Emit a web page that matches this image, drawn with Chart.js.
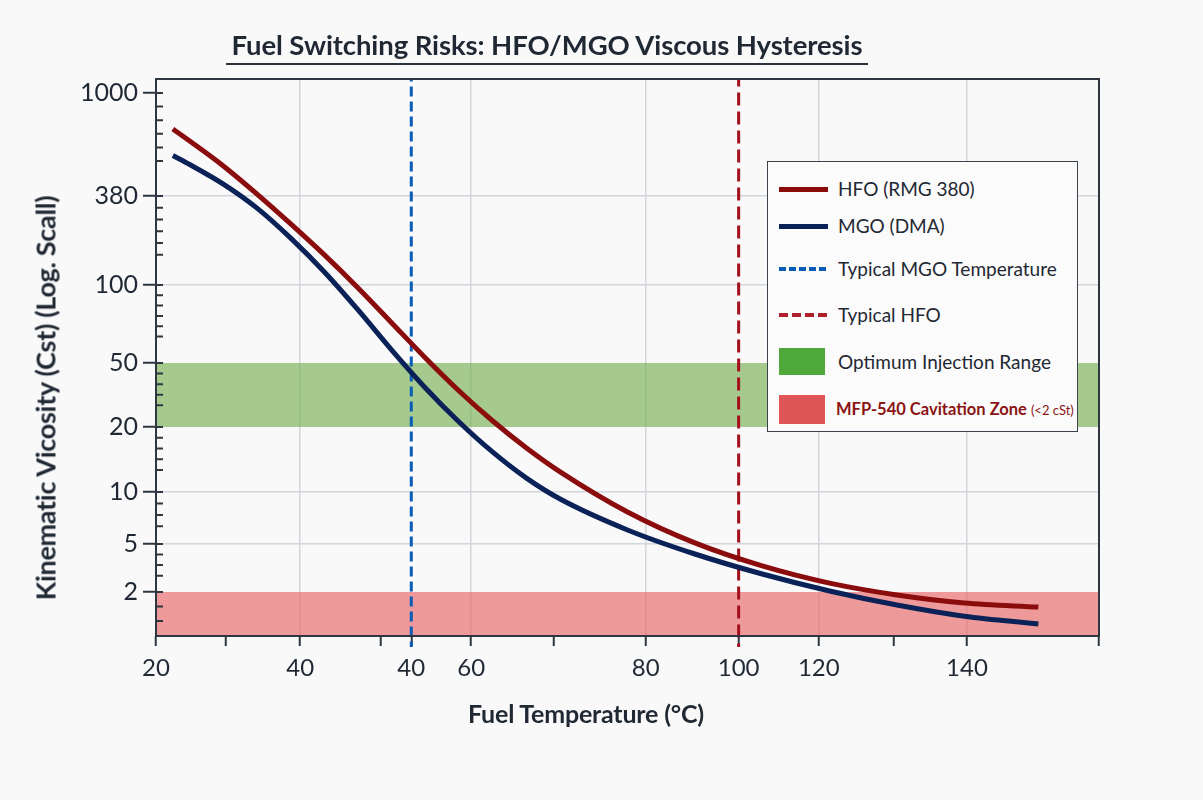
<!DOCTYPE html>
<html>
<head>
<meta charset="utf-8">
<script src="https://cdn.jsdelivr.net/npm/chart.js@4.4.1/dist/chart.umd.min.js"></script>
<style>
  html, body { margin: 0; padding: 0; background: #f9f9fa; }
  #wrap { position: relative; width: 1203px; height: 800px; font-family: Lato, 'Open Sans', sans-serif; color: #1f2833; }
  #title { position: absolute; left: 226px; top: 29px; width: 642px; text-align: center; font-size: 27.5px; font-weight: 700;
           line-height: 31px; padding-bottom: 3px; border-bottom: 2px solid #2b333d; letter-spacing: -0.1px; }
  #ytitle { position: absolute; left: 45px; top: 398px; transform: translate(-50%, -50%) rotate(-90deg); white-space: nowrap;
            font-size: 27px; font-weight: 700; letter-spacing: -0.3px; }
  #xtitle { position: absolute; left: 586px; top: 713px; transform: translate(-50%, -50%); white-space: nowrap;
            font-size: 25px; font-weight: 700; letter-spacing: -0.2px; }
  #legend { position: absolute; left: 767px; top: 161px; width: 309px; height: 269px; border: 1.5px solid #3a424c; background: #fbfbfb; }
  .it { position: absolute; left: 0; height: 28px; line-height: 28px; font-size: 19px; white-space: nowrap; }
  .it .tx { position: absolute; left: 70px; top: 0; }
  .sw { position: absolute; left: 11px; }
</style>
</head>
<body>
<div id="wrap">
  <canvas id="fuelChart" width="1203" height="800"></canvas>
  <div id="title">Fuel Switching Risks: HFO/MGO Viscous Hysteresis</div>
  <div id="ytitle">Kinematic Vicosity (Cst) (Log. Scall)</div>
  <div id="xtitle">Fuel Temperature (°C)</div>
  <div id="legend">
    <div class="it" style="top:13px"><span class="sw" style="top:12px;width:49px;height:5px;background:#8a0c0c"></span><span class="tx">HFO (RMG 380)</span></div>
    <div class="it" style="top:50px"><span class="sw" style="top:12px;width:49px;height:5px;background:#0a2257"></span><span class="tx">MGO (DMA)</span></div>
    <div class="it" style="top:93px"><span class="sw" style="top:12px;width:49px;height:4px;background:repeating-linear-gradient(90deg,#0b5cb5 0 7px,transparent 7px 10px)"></span><span class="tx">Typical MGO Temperature</span></div>
    <div class="it" style="top:139px"><span class="sw" style="top:12px;width:48px;height:4px;background:repeating-linear-gradient(90deg,#b0202c 0 9px,transparent 9px 13px)"></span><span class="tx">Typical HFO</span></div>
    <div class="it" style="top:186px"><span class="sw" style="top:0;width:46px;height:27px;background:#4ea83a"></span><span class="tx">Optimum Injection Range</span></div>
    <div class="it" style="top:233px"><span class="sw" style="top:0;width:46px;height:29px;background:#e05555"></span><span class="tx" style="left:68px;color:#8b1414;font-weight:700;font-size:16.5px">MFP-540 Cavitation Zone <span style="font-size:13px;font-weight:400">(&lt;2 cSt)</span></span></div>
  </div>
</div>
<script>
// temperatures (°C) and viscosities (cSt)
const temps   = [22.5, 25, 30, 35, 40, 45, 50, 55, 60, 65, 70, 75, 80, 90, 100, 110, 120, 130, 140, 151];
const hfoVisc = [713, 637, 504, 387, 250, 157, 97.4, 71.4, 52.3, 33.5, 21.8, 16.0, 12.4, 7.66, 5.07, 3.29, 2.37, 1.89, 1.62, 1.5];
const mgoVisc = [556, 511, 425, 317, 202, 121.5, 80.1, 56.1, 35.0, 21.5, 15.3, 11.6, 9.11, 6.03, 4.13, 2.82, 2.04, 1.56, 1.26, 1.086];

const mgoTypicalTemp = 57.9;
const hfoTypicalTemp = 106.5;
const optimumRange = [20, 50];
const cavitationLimit = 2;

// axis ticks as printed
const xTickAt     = [20, 30.4, 41.4, 53.4, 57.9, 66.8, 79.1, 92.7, 106.5, 118.4, 129.6, 140.4, 160];
const xTickLabels = ['20', '', '40', '', '40', '60', '', '80', '100', '120', '', '140', ''];
const yTicks      = [1000, 380, 100, 50, 20, 10, 5, 2];

// where each printed y tick sits, as a fraction of the axis height from the bottom
const yTickFrac = [0.9749, 0.7899, 0.6302, 0.4901, 0.3752, 0.2585, 0.1652, 0.079];

function segIndex(arr, x) {
  let i = 0;
  for (i = 0; i < arr.length - 2; i++) if (x >= arr[i + 1]) break;
  return i;
}
const yLogs = yTicks.map(v => Math.log10(v));
function viscToFrac(v) {
  const lv = Math.log10(v), i = segIndex(yLogs, lv);
  return yTickFrac[i] + (lv - yLogs[i]) * (yTickFrac[i + 1] - yTickFrac[i]) / (yLogs[i + 1] - yLogs[i]);
}
function fracToVisc(f) {
  const i = segIndex(yTickFrac, f);
  return Math.pow(10, yLogs[i] + (f - yTickFrac[i]) * (yLogs[i + 1] - yLogs[i]) / (yTickFrac[i + 1] - yTickFrac[i]));
}

class WarpedLogScale extends Chart.Scale {
  determineDataLimits() { this.min = fracToVisc(0); this.max = fracToVisc(1); }
  buildTicks() { return yTicks.map(v => ({ value: v })); }
  getLabelForValue(v) { return String(v); }
  getPixelForValue(v) { return this.getPixelForDecimal(viscToFrac(v)); }
  getValueForPixel(p) { return fracToVisc(this.getDecimalForPixel(p)); }
  getPixelForTick(i) { return this.getPixelForValue(this.ticks[i].value); }
}
WarpedLogScale.id = 'warpedLog';
WarpedLogScale.defaults = {};
Chart.register(WarpedLogScale);

const pts = (xs, ys) => xs.map((x, i) => ({ x: x, y: ys[i] }));
const yGrid = v => v !== yTicks[0] && !optimumRange.includes(v) && v !== cavitationLimit;
const xGrid = (v, i) => xTickLabels[i] !== '' && v !== mgoTypicalTemp && v !== hfoTypicalTemp && v !== xTickAt[0];

const axisDecor = {
  id: 'axisDecor',
  afterDraw(chart) {
    const { ctx, chartArea: a, scales: { y } } = chart;
    ctx.save();
    ctx.strokeStyle = '#2e3640';
    ctx.lineWidth = 2;
    ctx.strokeRect(a.left, a.top, a.right - a.left, a.bottom - a.top);
    const majors = yTicks.map(v => y.getPixelForValue(v));
    majors.push(a.bottom);
    const minorCounts = [5, 5, 5, 4, 4, 3, 3, 2];
    ctx.beginPath();
    for (let i = 0; i < yTicks.length; i++) {
      const p = majors[i], q = majors[i + 1], n = minorCounts[i];
      ctx.moveTo(a.left, p); ctx.lineTo(a.left + 7, p);
      for (let k = 1; k <= n; k++) {
        const m = p + (q - p) * 0.66 * k / n;
        ctx.moveTo(a.left, m); ctx.lineTo(a.left + 7, m);
      }
    }
    ctx.stroke();
    ctx.restore();
  }
};

const ctxFuel = document.getElementById('fuelChart').getContext('2d');
new Chart(ctxFuel, {
  type: 'line',
  data: {
    datasets: [
      {
        label: 'HFO (RMG 380)',
        data: pts(temps, hfoVisc),
        borderColor: '#8a0c0c',
        borderWidth: 5,
        pointRadius: 0,
        cubicInterpolationMode: 'monotone',
        order: 1
      },
      {
        label: 'MGO (DMA)',
        data: pts(temps, mgoVisc),
        borderColor: '#0a2257',
        borderWidth: 5,
        pointRadius: 0,
        cubicInterpolationMode: 'monotone',
        order: 2
      },
      {
        label: 'Typical MGO Temperature',
        data: [{ x: mgoTypicalTemp, y: 5000 }, { x: mgoTypicalTemp, y: 0.2 }],
        borderColor: '#0b5cb5',
        borderWidth: 3,
        borderDash: [10, 5],
        pointRadius: 0,
        clip: { left: 0, top: 0, right: 0, bottom: 11 },
        order: 3
      },
      {
        label: 'Typical HFO',
        data: [{ x: hfoTypicalTemp, y: 5000 }, { x: hfoTypicalTemp, y: 0.2 }],
        borderColor: '#a3101c',
        borderWidth: 3,
        borderDash: [13, 6],
        pointRadius: 0,
        clip: { left: 0, top: 0, right: 0, bottom: 11 },
        order: 3
      },
      {
        label: 'Optimum Injection Range',
        data: [{ x: 20, y: optimumRange[1] }, { x: 160, y: optimumRange[1] }],
        borderWidth: 0,
        pointRadius: 0,
        backgroundColor: 'rgba(110, 170, 70, 0.6)',
        fill: { value: optimumRange[0] },
        order: 5
      },
      {
        label: 'MFP-540 Cavitation Zone (<2 cSt)',
        data: [{ x: 20, y: cavitationLimit }, { x: 160, y: cavitationLimit }],
        borderWidth: 0,
        pointRadius: 0,
        backgroundColor: 'rgba(232, 90, 90, 0.6)',
        fill: 'start',
        order: 5
      }
    ]
  },
  options: {
    responsive: false,
    animation: false,
    events: [],
    layout: { padding: { left: 0, top: 79, right: 104, bottom: 0 } },
    plugins: { legend: { display: false }, title: { display: false }, tooltip: { enabled: false } },
    scales: {
      x: {
        type: 'linear',
        min: 20,
        max: 160,
        afterBuildTicks: s => { s.ticks = xTickAt.map(v => ({ value: v })); },
        afterFit: s => { s.height = 164; },
        border: { display: false },
        grid: {
          color: c => xGrid(c.tick.value, c.index) ? '#d3d6db' : 'rgba(0,0,0,0)',
          lineWidth: 1.5,
          tickColor: '#2e3640',
          tickWidth: 2,
          tickLength: 10
        },
        ticks: {
          autoSkip: false,
          maxRotation: 0,
          padding: 8,
          color: '#1f2833',
          font: { family: 'Lato', size: 24 },
          callback: (v, i) => xTickLabels[i]
        }
      },
      y: {
        type: 'warpedLog',
        position: 'left',
        afterFit: s => { s.width = 156; },
        border: { display: false },
        grid: {
          color: c => yGrid(c.tick.value) ? '#d3d6db' : 'rgba(0,0,0,0)',
          lineWidth: 1.5,
          tickColor: '#2e3640',
          tickWidth: 2,
          tickLength: 13
        },
        ticks: {
          padding: 5,
          color: '#1f2833',
          font: { family: 'Lato', size: 25 },
          callback: v => String(v)
        }
      }
    }
  },
  plugins: [axisDecor]
});
</script>
</body>
</html>
